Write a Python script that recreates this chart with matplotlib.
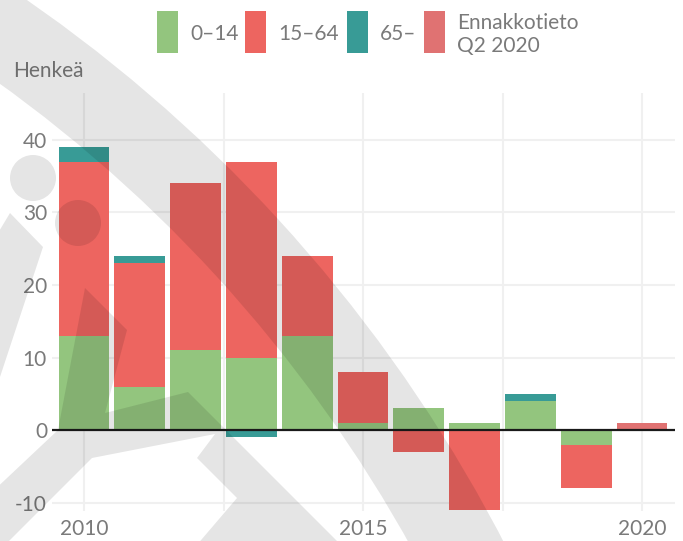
import numpy as np
import matplotlib
matplotlib.use("Agg")
import matplotlib.pyplot as plt
import matplotlib.transforms as mtransforms
from matplotlib.patches import Rectangle, Wedge, Circle, Polygon

plt.rcParams['font.family'] = ['Lato', 'DejaVu Sans']

# data (persons per year, by age group)
years = [2010, 2011, 2012, 2013, 2014, 2015, 2016, 2017, 2018, 2019, 2020]
age_0_14 = [13, 6, 11, 10, 13, 1, 3, 1, 4, -2, 0]
age_15_64 = [24, 17, 23, 27, 11, 7, -3, -11, 0, -6, 0]
age_65 = [2, 1, 0, -1, 0, 0, 0, 0, 1, 0, 0]
preliminary = [0, 0, 0, 0, 0, 0, 0, 0, 0, 0, 1]

labels = ['0–14', '15–64', '65–', 'Ennakkotieto\nQ2 2020']
colors = ['#93c57e', '#ed6560', '#389b96', '#e07272']
yticks = [-10, 0, 10, 20, 30, 40]
xticks = [2010, 2015, 2020]

W, H = 683, 541
fig = plt.figure(figsize=(W / 100, H / 100), dpi=100)
ax = fig.add_axes([52 / W, (H - 511) / H, (675 - 52) / W, (511 - 93) / H])

pos = np.zeros(len(years))
neg = np.zeros(len(years))
for vals, col in zip([age_0_14, age_15_64, age_65, preliminary], colors):
    v = np.array(vals, dtype=float)
    bottom = np.where(v >= 0, pos, neg)
    ax.bar(years, v, width=0.91, bottom=bottom, color=col, linewidth=0, zorder=2)
    pos += np.clip(v, 0, None)
    neg += np.clip(v, None, 0)

ax.set_xlim(2009.427, 2020.59)
ax.set_ylim(-11.17, 46.48)

grid_c = '#f0f0f0'
for x in np.arange(2010, 2020.1, 2.5):
    ax.axvline(x, color=grid_c, lw=1.5, zorder=0)
for y in yticks:
    if y != 0:
        ax.axhline(y, color=grid_c, lw=1.5, zorder=0)
ax.axhline(0, color='#1a1a1a', lw=1.6, zorder=3)

txt_c = '#7a7a7a'
ax.set_yticks(yticks)
ax.set_yticklabels([str(t) for t in yticks])
ax.set_xticks(xticks)
ax.set_xticklabels([str(t) for t in xticks])
ax.tick_params(axis='y', length=0, pad=3.6, labelsize=15, labelcolor=txt_c)
ax.tick_params(axis='x', length=0, pad=6.0, labelsize=15, labelcolor=txt_c)
for s in ax.spines.values():
    s.set_visible(False)

# pixel transform (image coords, y down)
px = mtransforms.Affine2D().scale(1 / W, -1 / H).translate(0, 1) + fig.transFigure

# legend drawn by hand
box_x = [157, 245, 347, 424]
for lab, col, bx in zip(labels, colors, box_x):
    fig.add_artist(Rectangle((bx, 11), 21, 42, transform=px, facecolor=col, lw=0))
    lines = lab.split('\n')
    if len(lines) == 1:
        fig.text(bx + 33, 40, lines[0], transform=px, fontsize=15, color=txt_c,
                 va='baseline', ha='left')
    else:
        for i, ln in enumerate(lines):
            fig.text(bx + 33, 29 + 23 * i, ln, transform=px, fontsize=15,
                     color=txt_c, va='baseline', ha='left')

fig.text(13, 77, 'Henkeä', transform=px, fontsize=15, color=txt_c,
         va='baseline', ha='left')

# watermark logo on top
wm = dict(transform=px, facecolor='k', alpha=0.1, lw=0, zorder=10)
fig.add_artist(Wedge((-827, 1232), 1499, -70, -15, width=84, **wm))
fig.add_artist(Circle((33, 178), 23, **wm))
fig.add_artist(Circle((78, 223), 23, **wm))
fig.add_artist(Polygon([(-5, 238), (10, 213), (43, 247), (0, 377), (-5, 377)], **wm))
fig.add_artist(Polygon([(85, 288), (127, 330), (105, 413), (188, 392), (349, 553),
                        (190, 553), (237, 498), (197, 458), (215, 434), (92, 458),
                        (-10, 560), (-45, 527), (58, 430)], **wm))

fig.savefig('out.png', dpi=100, facecolor='white')
